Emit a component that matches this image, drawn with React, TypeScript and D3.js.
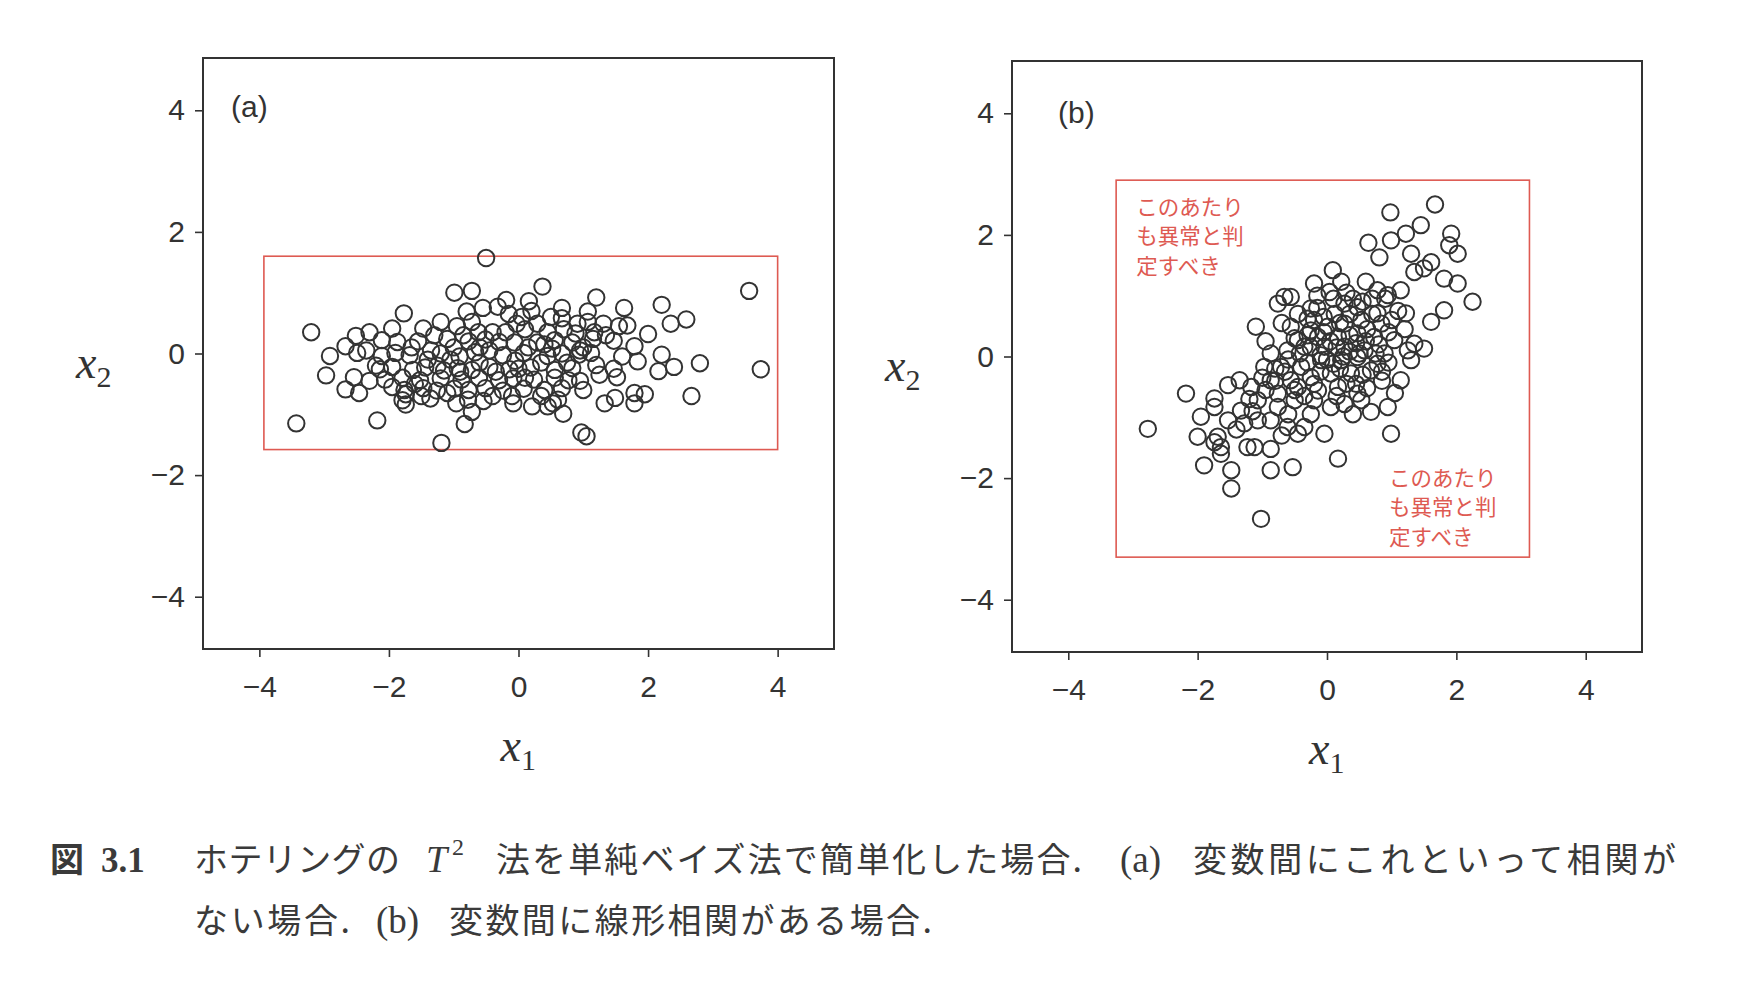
import React, { useEffect, useRef } from 'react';
import * as d3 from 'd3';

type Pt = [number, number];

// axis ticks shared by both panels
const xTicks = [-4, -2, 0, 2, 4];
const yTicks = [-4, -2, 0, 2, 4];
const xDomain: [number, number] = [-4.87, 4.87];
const yDomain: [number, number] = [-4.86, 4.86];

// (a) no correlation between x1 and x2
const pointsA: Pt[] = [
  [-0.50, 1.57], [3.56, 1.03], [3.74, -0.26], [-3.43, -1.15], [-3.20, 0.35], [-2.18, -1.10],
  [-1.19, -1.47], [0.97, -1.30], [1.05, -1.36], [2.80, -0.16], [2.67, -0.70], [2.21, 0.80],
  [2.35, 0.49], [2.59, 0.56], [2.40, -0.22], [2.16, -0.29], [2.00, 0.32], [2.21, -0.02],
  [1.95, -0.67], [1.79, -0.82], [1.79, -0.65], [1.33, -0.82], [1.49, -0.73], [1.63, 0.75],
  [1.68, 0.46], [1.20, 0.92], [1.07, 0.69], [1.79, 0.12], [1.84, -0.13], [1.47, 0.21],
  [1.52, -0.39], [1.47, -0.25], [1.31, 0.49], [1.17, 0.35], [1.12, 0.01], [1.20, -0.19],
  [0.37, 1.10], [0.16, 0.86], [-0.19, 0.88], [-0.32, 0.77], [-0.99, 1.00], [-0.72, 1.03],
  [0.67, 0.75], [0.67, 0.58], [0.91, 0.49], [1.07, 0.52], [0.61, -0.76], [0.69, -0.99],
  [0.53, -0.82], [-0.08, -0.82], [0.21, -0.87], [0.45, -0.87], [-0.78, -0.76], [-0.96, -0.82],
  [-0.72, -0.96], [-0.83, -1.16], [-1.74, -0.84], [-1.74, -0.67], [-2.67, -0.59], [-2.46, -0.65],
  [-2.54, -0.39], [-2.97, -0.36], [-2.91, -0.04], [-2.67, 0.12], [-2.49, 0.01], [-2.51, 0.29],
  [-2.30, 0.35], [-1.95, 0.41], [-1.77, 0.66], [-1.47, 0.41], [-1.20, 0.52], [-0.80, 0.69],
  [-0.72, 0.52], [-0.03, 0.49], [0.29, 0.49], [-0.06, 0.18], [0.29, 0.18],
  [-2.11, 0.22], [-1.87, 0.19], [-1.10, 0.24], [-0.77, 0.20], [-0.51, 0.23], [-0.30, 0.19],
  [0.56, 0.22], [0.83, 0.18], [1.15, 0.24],
  [-2.11, -0.04], [-1.90, 0.01], [-1.68, -0.03], [-1.20, 0.00], [-0.91, -0.05], [-0.67, 0.02],
  [-0.24, -0.03], [0.08, 0.01], [0.45, -0.04], [0.67, 0.00], [0.93, -0.02],
  [-2.14, -0.26], [-1.95, -0.22], [-1.63, -0.27], [-1.44, -0.23], [-1.15, -0.28], [-0.94, -0.24],
  [-0.72, -0.27], [-0.45, -0.22], [-0.14, -0.26], [0.19, -0.23], [0.56, -0.27], [0.83, -0.24],
  [-2.06, -0.43], [-1.79, -0.40], [-1.52, -0.44], [-1.20, -0.41], [-0.88, -0.43], [-0.61, -0.40],
  [-0.30, -0.44], [-0.08, -0.41], [0.24, -0.43], [0.56, -0.40], [0.77, -0.44],
  [-1.76, -0.60], [-1.47, -0.57], [-1.26, -0.61], [-0.99, -0.58], [-0.77, -0.60], [-0.51, -0.57],
  [-0.24, -0.61], [0.08, -0.58], [0.40, -0.60], [0.67, -0.57],
  [-1.79, -0.77], [-1.36, -0.74], [-0.54, -0.78],
  [-1.35, 0.05], [-0.40, 0.35], [0.05, 0.60], [0.45, 0.35], [0.88, 0.33], [-1.05, -0.10],
  [-0.05, -0.12], [0.35, -0.15], [0.95, -0.45], [-0.60, 0.10], [-1.55, 0.20], [0.52, 0.08],
  [-0.40, -0.70], [1.00, -0.60], [-1.60, -0.50], [-2.20, -0.20], [0.10, 0.40], [-0.85, 0.30],
  [-1.65, 0.10], [-1.40, -0.10], [-1.30, 0.30], [-1.00, 0.10], [-0.95, 0.45], [-0.62, 0.35],
  [-0.45, 0.05], [-0.20, 0.35], [0.00, -0.25], [0.15, 0.10], [0.40, 0.15], [0.70, 0.40],
  [0.75, -0.15], [1.00, 0.10], [1.25, -0.35], [1.35, 0.30], [-0.60, -0.15], [-0.35, -0.30],
  [0.10, -0.40], [0.35, -0.70], [-1.10, -0.65], [-1.50, -0.70], [-0.15, 0.65], [0.50, 0.60],
  [-0.55, 0.75], [-2.30, -0.45], [-1.95, -0.55], [-2.35, 0.05], [1.60, -0.05], [1.55, 0.45],
  [-0.90, -0.30], [0.20, 0.70], [-1.25, -0.20], [0.95, 0.05], [-0.10, -0.70],
];

// (b) linear correlation between x1 and x2
const pointsB: Pt[] = [
  [1.67, 2.50], [0.98, 2.37], [1.45, 2.16], [1.22, 2.02], [1.92, 2.02], [1.89, 1.83],
  [2.02, 1.69], [0.99, 1.91], [0.64, 1.87], [0.81, 1.63], [1.30, 1.69], [1.61, 1.55],
  [1.50, 1.45], [1.35, 1.39], [1.81, 1.28], [2.02, 1.20], [2.25, 0.90], [1.81, 0.76],
  [1.61, 0.57], [1.22, 0.71], [1.14, 1.09], [0.09, 1.42], [-0.20, 1.20], [0.22, 1.23],
  [0.60, 1.23], [0.78, 1.09], [0.94, 1.01], [-0.66, 0.98], [-0.56, 0.98], [-0.76, 0.87],
  [-0.25, 0.79], [-1.10, 0.49], [0.04, 1.06], [0.27, 0.87], [0.47, 0.81], [0.78, 0.71],
  [-0.56, 0.49], [-0.25, 0.43], [0.01, 0.49], [0.27, 0.54], [0.53, 0.60], [0.84, 0.54],
  [-0.45, 0.27], [-0.14, 0.32], [0.17, 0.32], [0.47, 0.38], [0.73, 0.32], [1.04, 0.27],
  [1.35, 0.21], [1.50, 0.13], [-0.87, 0.05], [-0.61, 0.10], [-0.35, 0.16], [-0.04, 0.16],
  [0.27, 0.16], [0.58, 0.10], [0.89, 0.05], [1.30, -0.06], [-0.97, -0.17], [-0.71, -0.17],
  [-0.40, -0.17], [-0.09, -0.06], [0.22, -0.06], [0.47, -0.01], [0.78, -0.12], [1.14, -0.39],
  [-0.87, -0.39], [-0.56, -0.39], [-0.25, -0.34], [0.06, -0.28], [0.37, -0.28], [0.68, -0.23],
  [-0.76, -0.61], [-0.45, -0.50], [-0.14, -0.56], [0.17, -0.50], [0.47, -0.61], [-1.17, -0.50],
  [-1.35, -0.39], [-1.53, -0.47], [-1.74, -0.69], [-2.18, -0.61], [-1.95, -0.99], [-1.74, -0.83],
  [-1.33, -0.89], [-1.07, -0.72], [-0.76, -0.83], [-0.50, -0.72], [-0.20, -0.72], [0.06, -0.83],
  [0.27, -0.78], [0.53, -0.72], [0.68, -0.91], [0.94, -0.83], [-1.53, -1.05], [-1.28, -1.10],
  [-1.07, -1.05], [-0.87, -1.05], [-0.61, -1.16], [-0.35, -1.16], [-0.04, -1.27], [-0.45, -1.27],
  [0.99, -1.27], [-2.00, -1.32], [-1.74, -1.41], [-1.64, -1.49], [-1.69, -1.32], [-1.23, -1.49],
  [-1.12, -1.49], [-0.87, -1.52], [-1.64, -1.60], [-1.90, -1.79], [-1.48, -1.87], [-0.87, -1.87],
  [-0.53, -1.82], [0.17, -1.68], [-1.48, -2.17], [-1.02, -2.67], [-2.77, -1.19],
  [-0.30, 0.62], [0.12, 0.70], [0.40, 0.95], [0.62, 0.45], [0.95, 0.40], [1.10, 0.75],
  [-0.42, 0.05], [-0.10, 0.02], [0.10, -0.12], [0.35, 0.08], [0.55, -0.30], [0.85, -0.40],
  [-0.65, -0.25], [-0.20, -0.45], [0.30, -0.45], [0.62, -0.52], [-0.95, -0.55], [-0.05, 0.40],
  [0.20, 0.55], [0.70, 0.70], [0.90, 0.95], [1.20, 0.45], [-0.80, -0.20], [-0.30, -0.10],
  [0.05, 0.25], [0.45, 0.22], [-0.15, 0.80], [0.30, 1.05], [0.95, -0.10], [1.05, -0.60],
  [-1.20, -0.70], [-0.60, -0.95], [-0.25, -0.95], [0.40, -0.95], [-1.40, -1.20], [-0.70, 0.55],
  [-0.95, 0.25], [0.15, -0.65], [0.75, 0.05], [1.25, 0.10],
  [-0.50, 0.30], [-0.20, 0.60], [0.10, 0.95], [0.35, 0.35], [0.60, 0.25], [-0.60, -0.05],
  [-0.30, 0.35], [0.00, -0.05], [0.25, 0.00], [0.45, -0.45], [-0.50, -0.55], [-0.10, -0.25],
  [0.15, 0.15], [-0.80, -0.40], [-1.00, -0.35], [-0.35, -0.65], [0.55, 0.90], [0.80, 0.20],
  [1.00, 0.60], [-0.15, 1.00], [-0.45, 0.70], [0.35, 0.70], [-1.15, -0.90], [-0.70, -1.30],
  [0.20, -0.20], [-0.25, 0.15], [0.50, 0.05], [0.85, -0.25], [-0.05, 0.65], [0.70, 0.95],
];

// red judgement boxes, in data units: [x min, x max, y min, y max]
const boxA = [-3.93, 4.0, -1.58, 1.6];
const boxB = [-3.26, 3.13, -3.3, 2.9];

const noteLines = ['このあたり', 'も異常と判', '定すべき'];

const RED = '#de5a52';
const INK = '#333';

interface PanelProps {
  points: Pt[];
  box: number[];
  label: string;
  left: number;
  top: number;
  width: number;
  height: number;
  labelPos: [number, number];
  notes?: { x: number; y: number }[];
}

const Panel: React.FC<PanelProps> = ({ points, box, label, left, top, width, height, labelPos, notes }) => {
  const gRef = useRef<SVGGElement>(null);

  useEffect(() => {
    const g = d3.select(gRef.current);
    g.selectAll('*').remove();

    const x = d3.scaleLinear().domain(xDomain).range([left, left + width]);
    const y = d3.scaleLinear().domain(yDomain).range([top + height, top]);

    // axes
    const ax = g.append('g')
      .attr('transform', `translate(0,${top + height})`)
      .call(d3.axisBottom(x).tickValues(xTicks).tickSize(8).tickPadding(19));
    const ay = g.append('g')
      .attr('transform', `translate(${left},0)`)
      .call(d3.axisLeft(y).tickValues(yTicks).tickSize(8).tickPadding(10));
    [ax, ay].forEach(a => {
      a.select('.domain').remove();
      a.selectAll('line').attr('stroke', INK).attr('stroke-width', 1.6);
      a.selectAll('text')
        .attr('fill', INK)
        .style('font-size', '30px')
        .style('font-family', '"Liberation Sans", Arial, sans-serif');
    });

    // frame
    g.append('rect')
      .attr('x', left).attr('y', top)
      .attr('width', width).attr('height', height)
      .attr('fill', 'none').attr('stroke', INK).attr('stroke-width', 2);

    // red box
    g.append('rect')
      .attr('x', x(box[0])).attr('y', y(box[3]))
      .attr('width', x(box[1]) - x(box[0]))
      .attr('height', y(box[2]) - y(box[3]))
      .attr('fill', 'none').attr('stroke', RED).attr('stroke-width', 1.6);

    // points
    g.append('g')
      .selectAll('circle')
      .data(points)
      .join('circle')
      .attr('cx', d => x(d[0]))
      .attr('cy', d => y(d[1]))
      .attr('r', 8.2)
      .attr('fill', 'none')
      .attr('stroke', INK)
      .attr('stroke-width', 2);

    // panel label
    g.append('text')
      .attr('x', labelPos[0]).attr('y', labelPos[1])
      .attr('fill', INK)
      .style('font-size', '30px')
      .style('font-family', '"Liberation Sans", Arial, sans-serif')
      .text(label);

    // notes
    (notes || []).forEach(n => {
      const t = g.append('text')
        .attr('fill', RED)
        .style('font-size', '21.5px')
        .style('font-family', '"Noto Sans CJK JP", sans-serif');
      noteLines.forEach((line, i) => {
        t.append('tspan')
          .attr('x', x(n.x))
          .attr('y', y(n.y) + i * 29.5)
          .attr('dominant-baseline', 'central')
          .text(line);
      });
    });

    // axis titles
    const xt = g.append('text')
      .attr('x', x(0) - 18).attr('y', top + height + 112)
      .attr('fill', INK)
      .style('font-family', '"Liberation Serif", "Times New Roman", serif');
    xt.append('tspan').style('font-style', 'italic').style('font-size', '46px').text('x');
    xt.append('tspan').attr('dy', 9).style('font-size', '30px').text('1');

    const yt = g.append('text')
      .attr('x', left - 127).attr('y', y(0) + 24)
      .attr('fill', INK)
      .style('font-family', '"Liberation Serif", "Times New Roman", serif');
    yt.append('tspan').style('font-style', 'italic').style('font-size', '46px').text('x');
    yt.append('tspan').attr('dy', 9).style('font-size', '30px').text('2');
  }, [points, box, label, left, top, width, height]);

  return <g ref={gRef} />;
};

const cjk = '"Noto Sans CJK JP", sans-serif';
const serif = '"Liberation Serif", "Times New Roman", serif';

const App: React.FC = () => {
  return (
    <svg width={1740} height={1000} style={{ position: 'absolute', left: 0, top: 0, background: '#fff' }}>
      <Panel points={pointsA} box={boxA} label="(a)" left={203} top={58} width={631} height={591} labelPos={[231, 117]} />
      <Panel points={pointsB} box={boxB} label="(b)" left={1012} top={61} width={630} height={591} labelPos={[1058, 123]}
        notes={[{ x: -2.95, y: 2.49 }, { x: 0.96, y: -1.97 }]} />

      <g fill="#3a3a3a">
        <text x={50} y={872} style={{ fontFamily: cjk, fontSize: 34, fontWeight: 700 }}>図</text>
        <text x={101} y={872} style={{ fontFamily: serif, fontSize: 35, fontWeight: 700 }}>3.1</text>
        <text x={194} y={872} textLength={206} lengthAdjust="spacing" style={{ fontFamily: cjk, fontSize: 34 }}>ホテリングの</text>
        <text x={426} y={872} style={{ fontFamily: serif, fontSize: 38, fontStyle: 'italic' }}>T</text>
        <text x={452} y={855} style={{ fontFamily: serif, fontSize: 24 }}>2</text>
        <text x={496} y={872} textLength={586} lengthAdjust="spacing" style={{ fontFamily: cjk, fontSize: 34 }}>法を単純ベイズ法で簡単化した場合.</text>
        <text x={1120} y={872} style={{ fontFamily: serif, fontSize: 37 }}>(a)</text>
        <text x={1193} y={872} textLength={483} lengthAdjust="spacing" style={{ fontFamily: cjk, fontSize: 34 }}>変数間にこれといって相関が</text>

        <text x={194} y={933} textLength={156} lengthAdjust="spacing" style={{ fontFamily: cjk, fontSize: 34 }}>ない場合.</text>
        <text x={376} y={933} style={{ fontFamily: serif, fontSize: 37 }}>(b)</text>
        <text x={449} y={933} textLength={483} lengthAdjust="spacing" style={{ fontFamily: cjk, fontSize: 34 }}>変数間に線形相関がある場合.</text>
      </g>
    </svg>
  );
};

export default App;
